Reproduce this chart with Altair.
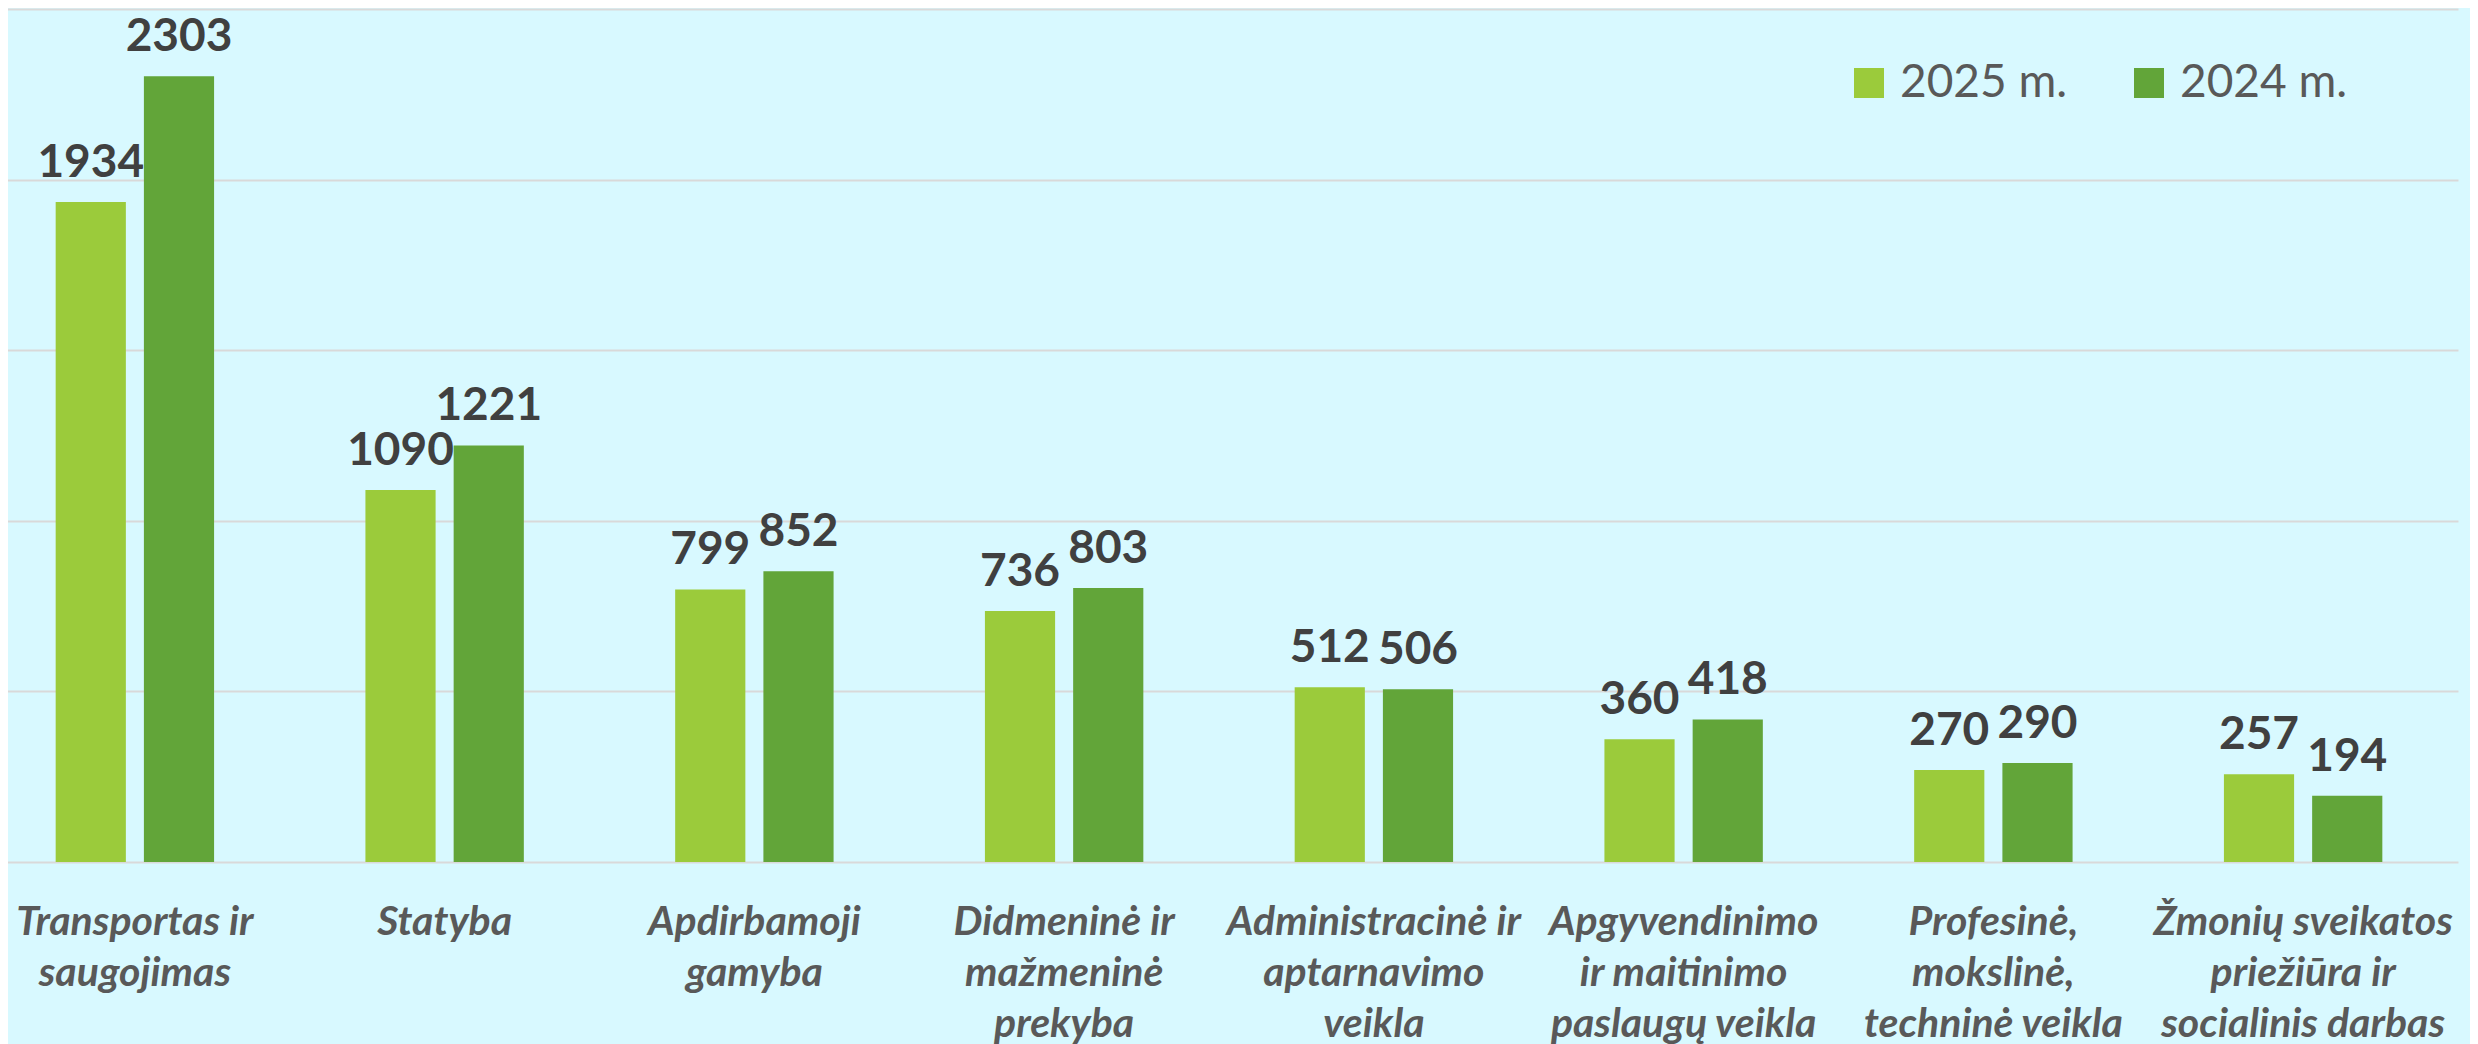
import altair as alt
import pandas as pd

categories = [
    "Transportas ir\nsaugojimas",
    "Statyba",
    "Apdirbamoji\ngamyba",
    "Didmeninė ir\nmažmeninė\nprekyba",
    "Administracinė ir\naptarnavimo\nveikla",
    "Apgyvendinimo\nir maitinimo\npaslaugų veikla",
    "Profesinė,\nmokslinė,\ntechninė veikla",
    "Žmonių sveikatos\npriežiūra ir\nsocialinis darbas",
]
series = ["2025 m.", "2024 m."]
values_2025 = [1934, 1090, 799, 736, 512, 360, 270, 257]
values_2024 = [2303, 1221, 852, 803, 506, 418, 290, 194]
colors = ["#9BCB3B", "#62A539"]
y_ticks = [0, 500, 1000, 1500, 2000, 2500]

rows = []
for i, c in enumerate(categories):
    rows.append({"cat": c, "series": series[0], "value": values_2025[i]})
    rows.append({"cat": c, "series": series[1], "value": values_2024[i]})
df = pd.DataFrame(rows)

x_enc = alt.X(
    "cat:N",
    sort=categories,
    scale=alt.Scale(paddingInner=0, paddingOuter=0),
    axis=alt.Axis(
        title=None,
        labelExpr="split(datum.label, '\\n')",
        labelAngle=0,
        labelFont="Lato",
        labelFontSize=41,
        labelFontWeight="bold",
        labelFontStyle="italic",
        labelColor="#595959",
        labelLineHeight=51,
        labelPadding=40,
        labelLimit=600,
        ticks=False,
        domain=False,
        grid=False,
    ),
)
xoff_enc = alt.XOffset(
    "series:N",
    sort=series,
    scale=alt.Scale(domain=series, paddingInner=0.2045, paddingOuter=0.8577),
)
y_enc = alt.Y(
    "value:Q",
    scale=alt.Scale(domain=[0, 2500], nice=False),
    axis=alt.Axis(
        title=None,
        values=y_ticks,
        labels=False,
        ticks=False,
        domain=False,
        grid=True,
        gridColor="#D9D9D9",
        gridWidth=2,
    ),
)

bars = alt.Chart(df).mark_bar().encode(
    x=x_enc,
    xOffset=xoff_enc,
    y=y_enc,
    color=alt.Color(
        "series:N",
        sort=series,
        scale=alt.Scale(domain=series, range=colors),
        legend=alt.Legend(
            title=None,
            orient="none",
            direction="horizontal",
            legendX=1866,
            legendY=51,
            symbolType="square",
            symbolSize=900,
            symbolStrokeWidth=0,
            symbolOpacity=1,
            labelFont="Lato",
            labelFontSize=46,
            labelColor="#595959",
            labelOffset=8,
            labelLimit=600,
            columnPadding=58,
            padding=0,
        ),
    ),
)

labels = alt.Chart(df).mark_text(
    font="Lato",
    fontWeight="bold",
    fontSize=46,
    color="#404040",
    baseline="alphabetic",
    align="center",
    dy=-25,
).encode(
    x=alt.X("cat:N", sort=categories),
    xOffset=alt.XOffset("series:N", sort=series),
    y=alt.Y("value:Q"),
    text=alt.Text("value:Q"),
)

chart = (
    alt.layer(bars, labels)
    .properties(
        width=2478,
        height=853,
        background="#D8F9FF",
        padding={"left": -28, "top": 1, "right": 12, "bottom": 182},
        autosize=alt.AutoSizeParams(type="none"),
    )
    .configure_view(stroke=None)
)

chart.save("out.html", embed_options={"renderer": "svg", "actions": False})
